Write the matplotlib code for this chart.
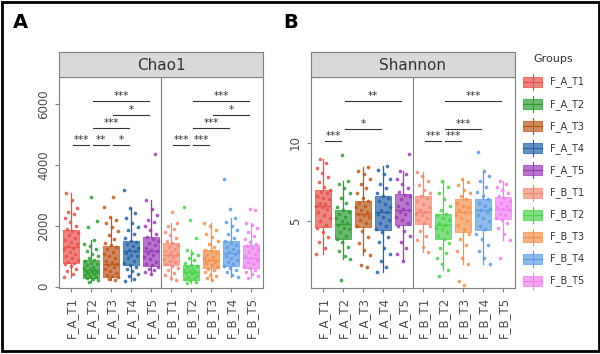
import matplotlib
matplotlib.use("Agg")
import matplotlib.pyplot as plt
from matplotlib.patches import Rectangle

# Group names and colours
groups = ["F_A_T1", "F_A_T2", "F_A_T3", "F_A_T4", "F_A_T5",
          "F_B_T1", "F_B_T2", "F_B_T3", "F_B_T4", "F_B_T5"]
colors = ["#E6514A", "#2E9E34", "#C0581E", "#2762AA", "#9A3DB5",
          "#F48A74", "#4CD44C", "#F5924E", "#5F9DE6", "#EE82EE"]

# Chao1 box stats: lower whisker, Q1, median, Q3, upper whisker
chao_lo = [330, 170, 230, 175, 430, 230, 130, 230, 330, 300]
chao_q1 = [790, 300, 320, 720, 670, 720, 230, 610, 670, 610]
chao_med = [1320, 560, 760, 1160, 1160, 1050, 500, 890, 1110, 950]
chao_q3 = [1870, 890, 1340, 1520, 1650, 1430, 720, 1210, 1490, 1380]
chao_hi = [3070, 1540, 2300, 2580, 2850, 2090, 1210, 2090, 2250, 2090]

# Chao1 sample points (approximate)
chao_pts = [
    [330, 420, 510, 600, 680, 740, 780, 820, 880, 950, 1010, 1080, 1150, 1230, 1290, 1340,
     1400, 1470, 1540, 1610, 1690, 1760, 1830, 1900, 2000, 2120, 2260, 2380, 2450, 2600, 2840, 3070],
    [170, 210, 250, 290, 320, 350, 380, 410, 440, 470, 500, 530, 560, 590, 620, 660, 700, 740,
     790, 840, 880, 930, 1000, 1080, 1160, 1250, 1330, 1420, 1540, 1950, 2150, 2960],
    [230, 270, 310, 350, 400, 460, 520, 590, 650, 700, 750, 800, 860, 930, 1000, 1080, 1150,
     1230, 1300, 1360, 1440, 1560, 1700, 1820, 1950, 2080, 2200, 2300, 2620, 2940],
    [175, 260, 350, 430, 520, 600, 660, 720, 790, 860, 930, 1000, 1060, 1120, 1170, 1220, 1280,
     1340, 1400, 1460, 1510, 1600, 1720, 1850, 1960, 2100, 2250, 2420, 2580, 3180],
    [430, 480, 540, 600, 650, 700, 760, 830, 900, 970, 1040, 1100, 1160, 1220, 1290, 1360, 1430,
     1500, 1570, 1640, 1720, 1850, 1980, 2120, 2200, 2350, 2550, 2850, 4360],
    [230, 300, 380, 460, 540, 620, 690, 740, 800, 860, 920, 980, 1030, 1080, 1130, 1190, 1250,
     1320, 1380, 1430, 1500, 1600, 1700, 1800, 1900, 2000, 2090, 2450],
    [130, 170, 210, 250, 290, 330, 370, 410, 450, 490, 520, 560, 600, 640, 680, 720, 790, 870,
     950, 1030, 1120, 1210, 1600, 2180, 2620],
    [230, 280, 340, 400, 470, 540, 600, 650, 710, 770, 830, 880, 930, 990, 1050, 1110, 1170,
     1220, 1300, 1400, 1500, 1620, 1740, 1870, 1980, 2090],
    [330, 400, 470, 540, 610, 670, 740, 810, 880, 950, 1020, 1080, 1130, 1190, 1250, 1310, 1380,
     1440, 1500, 1600, 1720, 1850, 1990, 2120, 2250, 2540, 3540],
    [300, 360, 430, 500, 560, 620, 690, 760, 830, 890, 950, 1010, 1070, 1140, 1210, 1280, 1340,
     1400, 1480, 1570, 1680, 1800, 1920, 2020, 2090, 2520, 2550],
]

# Shannon box stats
shan_lo = [2.9, 2.6, 2.85, 1.8, 2.5, 3.06, 1.9, 2.32, 2.32, 3.8]
shan_q1 = [4.64, 3.9, 4.64, 4.43, 4.75, 4.85, 3.9, 4.32, 4.43, 5.17]
shan_med = [6.0, 4.85, 5.5, 5.6, 5.7, 5.6, 4.75, 5.6, 5.7, 5.8]
shan_q3 = [7.0, 5.7, 6.33, 6.65, 6.75, 6.65, 5.5, 6.44, 6.44, 6.54]
shan_hi = [8.97, 7.6, 8.44, 8.55, 8.23, 8.12, 7.6, 7.7, 8.23, 7.6]

shan_pts = [
    [2.9, 3.3, 3.7, 4.0, 4.3, 4.6, 4.8, 5.0, 5.2, 5.4, 5.6, 5.8, 5.9, 6.0, 6.1, 6.2, 6.4, 6.5,
     6.6, 6.8, 6.9, 7.0, 7.2, 7.5, 7.8, 8.1, 8.4, 8.7, 8.97],
    [1.27, 2.6, 2.8, 3.1, 3.4, 3.7, 3.9, 4.1, 4.3, 4.5, 4.6, 4.8, 4.9, 5.0, 5.2, 5.3, 5.5, 5.6,
     5.7, 5.9, 6.2, 6.5, 6.8, 7.1, 7.4, 7.6, 9.2],
    [2.1, 2.2, 2.85, 3.2, 3.6, 4.0, 4.4, 4.7, 4.9, 5.1, 5.3, 5.4, 5.5, 5.6, 5.7, 5.9, 6.0, 6.2,
     6.3, 6.5, 6.8, 7.1, 7.4, 7.7, 8.0, 8.2, 8.44],
    [1.8, 2.1, 2.5, 2.9, 3.3, 3.7, 4.0, 4.3, 4.5, 4.7, 4.9, 5.1, 5.3, 5.5, 5.6, 5.7, 5.9, 6.1,
     6.3, 6.5, 6.6, 6.8, 7.1, 7.4, 7.7, 8.0, 8.3, 8.55],
    [2.5, 2.9, 3.3, 3.7, 4.1, 4.4, 4.7, 4.9, 5.1, 5.3, 5.5, 5.6, 5.7, 5.8, 6.0, 6.2, 6.4, 6.6,
     6.7, 6.9, 7.1, 7.4, 7.7, 8.0, 8.23, 9.3],
    [3.06, 3.4, 3.8, 4.1, 4.4, 4.7, 4.9, 5.1, 5.2, 5.4, 5.5, 5.6, 5.7, 5.9, 6.1, 6.3, 6.5, 6.6,
     6.8, 7.0, 7.3, 7.6, 7.9, 8.12],
    [1.5, 1.9, 2.3, 2.7, 3.0, 3.3, 3.6, 3.9, 4.1, 4.3, 4.5, 4.6, 4.8, 4.9, 5.1, 5.2, 5.4, 5.5,
     5.7, 6.0, 6.4, 6.8, 7.2, 7.6],
    [0.95, 1.2, 2.32, 2.7, 3.1, 3.5, 3.9, 4.2, 4.5, 4.8, 5.0, 5.2, 5.4, 5.6, 5.7, 5.9, 6.0, 6.2,
     6.4, 6.6, 6.8, 7.0, 7.3, 7.5, 7.7],
    [2.32, 2.7, 3.1, 3.5, 3.9, 4.2, 4.5, 4.7, 5.0, 5.2, 5.4, 5.6, 5.7, 5.8, 6.0, 6.2, 6.4, 6.6,
     6.9, 7.2, 7.6, 7.9, 8.23, 9.4],
    [2.65, 3.8, 4.2, 4.6, 4.9, 5.1, 5.2, 5.4, 5.5, 5.7, 5.8, 5.9, 6.0, 6.2, 6.3, 6.5, 6.6, 6.8,
     7.0, 7.2, 7.4, 7.6],
]

# significance brackets: (group from, group to, height, label)
chao_sig = [(2, 5, 6100, "***"), (3, 5, 5650, "*"), (2, 4, 5200, "***"),
            (1, 2, 4650, "***"), (2, 3, 4650, "**"), (3, 4, 4650, "*"),
            (7, 10, 6100, "***"), (8, 10, 5650, "*"), (7, 9, 5200, "***"),
            (6, 7, 4650, "***"), (7, 8, 4650, "***")]
shan_sig = [(2, 5, 12.66, "**"), (2, 4, 10.9, "*"), (1, 2, 10.1, "***"),
            (7, 10, 12.66, "***"), (7, 9, 10.9, "***"), (6, 7, 10.1, "***"), (7, 8, 10.1, "***")]

GRAY = "#7F7F7F"
fig = plt.figure(figsize=(6, 3.54), dpi=100)


def panel(left, title, lo, q1, med, q3, hi, pts, sig, ylim, yticks, sig_off):
    ax = fig.add_axes([left, 1 - 288 / 354, 204 / 600, 211 / 354])
    stats = []
    for i in range(len(groups)):
        stats.append(dict(whislo=lo[i], q1=q1[i], med=med[i], q3=q3[i], whishi=hi[i], fliers=[]))
    pos = list(range(1, len(groups) + 1))
    bp = ax.bxp(stats, positions=pos, widths=0.78, patch_artist=True, showcaps=False,
                showfliers=False)
    for i, c in enumerate(colors):
        bp["boxes"][i].set(facecolor=c, alpha=0.7, edgecolor=c, linewidth=0.8)
        bp["medians"][i].set(color=c, linewidth=1.0)
        bp["whiskers"][2 * i].set(color=c, linewidth=0.9)
        bp["whiskers"][2 * i + 1].set(color=c, linewidth=0.9)
    # jittered points
    for i, vals in enumerate(pts):
        xs = [pos[i] + ((k * 0.618034 + i * 0.37) % 1 - 0.5) * 0.74 for k in range(len(vals))]
        ax.scatter(xs, vals, s=7, color=colors[i], alpha=0.85, linewidths=0, zorder=3)
    for g1, g2, y, lab in sig:
        ax.plot([g1 + 0.1, g2 - 0.1], [y, y], color="#333333", lw=0.8)
        ax.text((g1 + g2) / 2, y + sig_off, lab, ha="center", va="bottom", fontsize=7.5,
                color="#333333")
    ax.axvline(5.5, color=GRAY, lw=0.8)
    ax.set_xlim(0.4, 10.6)
    ax.set_ylim(*ylim)
    ax.set_yticks(yticks)
    ax.set_yticklabels([str(t) for t in yticks], rotation=90, va="center", fontsize=8.5,
                       color="#4D4D4D")
    ax.set_xticks(pos)
    ax.set_xticklabels(groups, rotation=90, fontsize=8.5, color="#4D4D4D")
    ax.tick_params(colors=GRAY, length=3, width=0.8, labelcolor="#4D4D4D")
    for s in ax.spines.values():
        s.set_color(GRAY)
        s.set_linewidth(0.8)
    # facet strip
    sax = fig.add_axes([left, 1 - 77 / 354, 204 / 600, 25 / 354])
    sax.set_facecolor("#D9D9D9")
    sax.set_xticks([])
    sax.set_yticks([])
    for s in sax.spines.values():
        s.set_color(GRAY)
        s.set_linewidth(0.8)
    sax.text(0.5, 0.45, title, ha="center", va="center", fontsize=11, color="#333333",
             transform=sax.transAxes)
    return ax


panel(59 / 600, "Chao1", chao_lo, chao_q1, chao_med, chao_q3, chao_hi, chao_pts, chao_sig,
      (-40, 6890), [0, 2000, 4000, 6000], 0)
panel(311 / 600, "Shannon", shan_lo, shan_q1, shan_med, shan_q3, shan_hi, shan_pts, shan_sig,
      (0.76, 14.2), [5, 10], 0.0)

# overlay in pixel coordinates: panel letters, legend, outer frame
ov = fig.add_axes([0, 0, 1, 1], zorder=-1)
ov.set_xlim(0, 600)
ov.set_ylim(354, 0)
ov.axis("off")
ov.text(20, 22, "A", fontsize=14, fontweight="bold", ha="center", va="center")
ov.text(291, 22, "B", fontsize=14, fontweight="bold", ha="center", va="center")
ov.text(533, 59, "Groups", fontsize=8, color="#333333", ha="left", va="center")
for i, (g, c) in enumerate(zip(groups, colors)):
    cy = 82 + i * 22.1
    ov.plot([532.5, 532.5], [cy - 8, cy + 8], color=c, lw=0.8)
    ov.add_patch(Rectangle((523, cy - 5), 19, 10, facecolor=c, alpha=0.7, edgecolor=c, lw=0.8))
    ov.plot([523, 542], [cy, cy], color=c, lw=0.9)
    ov.text(550, cy, g, fontsize=7, color="#333333", ha="left", va="center")
ov.add_patch(Rectangle((1.5, 1.5), 597, 349, fill=False, edgecolor="black", lw=2))

fig.savefig("out.png", dpi=100)
